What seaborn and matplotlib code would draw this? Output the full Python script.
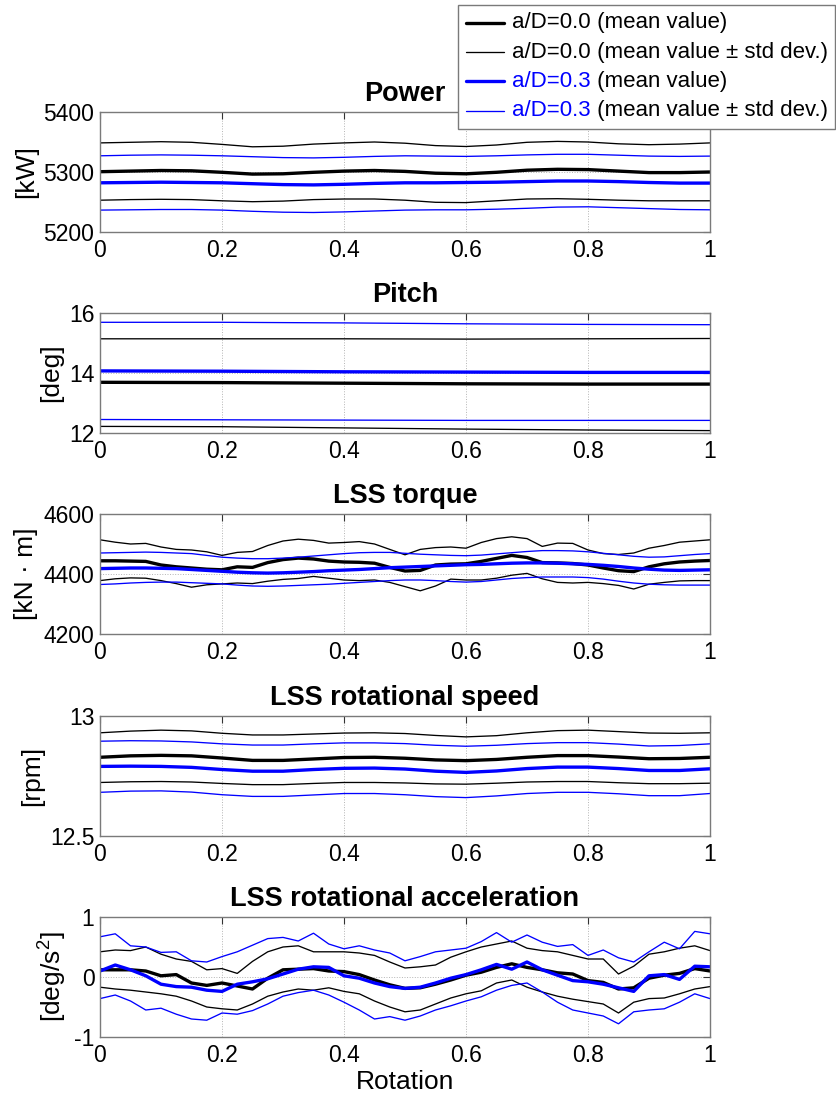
import numpy as np
import pandas as pd
import matplotlib
matplotlib.use("Agg")
import matplotlib.pyplot as plt
import seaborn as sns
from matplotlib.lines import Line2D
from matplotlib.offsetbox import AnchoredOffsetbox, DrawingArea, TextArea, HPacker, VPacker

# ---------------------------------------------------------------- data
rotation = np.round(np.linspace(0.0, 1.0, 21), 4)        # step 0.05
rotation_fine = np.round(np.linspace(0.0, 1.0, 41), 4)   # step 0.025
rotation_pitch = [0.0, 0.2, 0.4, 0.6, 0.8, 1.0]

# Power [kW]
power_mean_00 = [5300.5, 5301.5, 5302.5, 5302, 5299.5, 5296.5, 5297, 5299.5, 5301.5, 5302.5, 5301,
                 5298, 5297, 5299.5, 5303, 5304.5, 5304, 5301.5, 5299, 5299, 5300]
power_up_00 = [5348.5, 5349.5, 5350.5, 5349.5, 5346, 5342, 5343, 5346.5, 5348.5, 5350, 5348,
               5344, 5342.5, 5345, 5349.5, 5351, 5350, 5347, 5345.5, 5346.5, 5348.5]
power_lo_00 = [5253, 5254, 5254.5, 5254, 5252, 5250.5, 5251.5, 5254, 5255, 5255, 5253,
               5249.5, 5249, 5252, 5255, 5255.5, 5254.5, 5253, 5252, 5252, 5252]
power_mean_03 = [5282, 5282.5, 5283, 5282.5, 5282, 5280.5, 5279, 5278.5, 5279.5, 5281, 5282,
                 5282, 5282.5, 5283, 5284, 5285, 5285, 5284, 5282.5, 5281.5, 5281.5]
power_up_03 = [5327, 5328, 5328.5, 5328, 5327, 5325.5, 5324, 5323.5, 5324.5, 5326, 5327,
               5326.5, 5326, 5327, 5328.5, 5329.5, 5329.5, 5328, 5326.5, 5326, 5326.5]
power_lo_03 = [5236.5, 5237, 5237.5, 5237.5, 5236.5, 5234.5, 5233, 5232.5, 5233.5, 5235, 5236.5,
               5237, 5237, 5238, 5239.5, 5241.5, 5242, 5240.5, 5239, 5237.5, 5237]

# Pitch [deg]
pitch_mean_00 = [13.69, 13.68, 13.66, 13.64, 13.63, 13.63]
pitch_up_00 = [15.14, 15.14, 15.14, 15.13, 15.14, 15.15]
pitch_lo_00 = [12.22, 12.21, 12.17, 12.13, 12.10, 12.08]
pitch_mean_03 = [14.07, 14.06, 14.04, 14.03, 14.02, 14.02]
pitch_up_03 = [15.69, 15.69, 15.67, 15.64, 15.62, 15.61]
pitch_lo_03 = [12.45, 12.44, 12.43, 12.42, 12.42, 12.42]

# LSS torque [kN m]
torque_mean_00 = [4444, 4444, 4443, 4442, 4430, 4424, 4420, 4416, 4414, 4424, 4422, 4438, 4448, 4453,
                  4450, 4443, 4440, 4439, 4436, 4422, 4410, 4412, 4430, 4433, 4434, 4442, 4452, 4462,
                  4455, 4438, 4437, 4435, 4430, 4420, 4411, 4408, 4424, 4434, 4440, 4443, 4445]
torque_up_00 = [4514, 4506, 4500, 4502, 4490, 4482, 4480, 4474, 4462, 4472, 4475, 4495, 4510, 4516,
                4512, 4503, 4505, 4508, 4500, 4482, 4464, 4482, 4488, 4490, 4486, 4505, 4518, 4524,
                4518, 4492, 4503, 4502, 4480, 4468, 4465, 4470, 4486, 4495, 4506, 4510, 4514]
torque_lo_00 = [4378, 4384, 4387, 4386, 4378, 4368, 4356, 4364, 4367, 4370, 4368, 4376, 4382, 4385,
                4392, 4386, 4380, 4378, 4380, 4372, 4358, 4344, 4360, 4383, 4380, 4380, 4386, 4396,
                4402, 4384, 4372, 4370, 4372, 4368, 4362, 4350, 4366, 4372, 4377, 4378, 4378]
torque_mean_03 = [4418, 4419, 4420, 4420, 4419, 4418, 4415, 4412, 4409, 4406, 4404, 4403, 4404, 4406,
                  4408, 4411, 4413, 4415, 4418, 4421, 4423, 4425, 4427, 4429, 4431, 4432, 4434, 4436,
                  4437, 4437, 4436, 4434, 4432, 4429, 4425, 4420, 4416, 4413, 4412, 4413, 4414]
torque_up_03 = [4470, 4471, 4472, 4473, 4472, 4470, 4468, 4462, 4456, 4453, 4451, 4451, 4453, 4456,
                4460, 4464, 4468, 4471, 4472, 4472, 4469, 4466, 4464, 4462, 4461, 4463, 4467, 4471,
                4475, 4478, 4478, 4477, 4474, 4469, 4464, 4459, 4456, 4457, 4461, 4465, 4468]
torque_lo_03 = [4365, 4367, 4370, 4372, 4373, 4373, 4371, 4369, 4367, 4363, 4360, 4359, 4360, 4362,
                4364, 4366, 4369, 4372, 4375, 4378, 4380, 4380, 4378, 4375, 4373, 4375, 4380, 4385,
                4388, 4390, 4390, 4390, 4388, 4383, 4376, 4370, 4366, 4364, 4363, 4363, 4363]

# LSS rotational speed [rpm]
speed_mean_00 = [12.828, 12.834, 12.836, 12.834, 12.825, 12.815, 12.815, 12.821, 12.827, 12.828, 12.824,
                 12.817, 12.814, 12.819, 12.828, 12.835, 12.835, 12.829, 12.822, 12.823, 12.828]
speed_up_00 = [12.930, 12.937, 12.941, 12.938, 12.928, 12.921, 12.921, 12.925, 12.929, 12.930, 12.927,
               12.919, 12.913, 12.918, 12.930, 12.939, 12.941, 12.935, 12.929, 12.928, 12.930]
speed_lo_00 = [12.723, 12.726, 12.727, 12.725, 12.719, 12.714, 12.714, 12.719, 12.723, 12.723, 12.721,
               12.717, 12.716, 12.720, 12.725, 12.727, 12.727, 12.722, 12.718, 12.718, 12.720]
speed_mean_03 = [12.790, 12.791, 12.790, 12.786, 12.777, 12.770, 12.770, 12.777, 12.782, 12.783, 12.779,
                 12.770, 12.765, 12.771, 12.781, 12.787, 12.787, 12.781, 12.773, 12.773, 12.780]
speed_up_03 = [12.895, 12.897, 12.896, 12.892, 12.884, 12.879, 12.879, 12.884, 12.888, 12.888, 12.885,
               12.878, 12.874, 12.878, 12.885, 12.889, 12.889, 12.883, 12.875, 12.877, 12.884]
speed_lo_03 = [12.682, 12.687, 12.688, 12.683, 12.672, 12.665, 12.665, 12.671, 12.677, 12.677, 12.672,
               12.664, 12.660, 12.667, 12.677, 12.682, 12.682, 12.676, 12.668, 12.668, 12.677]

# LSS rotational acceleration [deg/s^2]
accel_mean_00 = [0.12, 0.12, 0.12, 0.10, 0.02, 0.04, -0.10, -0.14, -0.10, -0.15, -0.20, -0.02, 0.12, 0.13,
                 0.14, 0.10, 0.09, 0.04, -0.05, -0.13, -0.19, -0.18, -0.12, -0.05, 0.03, 0.08, 0.16, 0.22,
                 0.16, 0.12, 0.07, 0.05, -0.06, -0.09, -0.20, -0.18, -0.02, 0.03, 0.06, 0.14, 0.10]
accel_up_00 = [0.42, 0.45, 0.44, 0.50, 0.38, 0.30, 0.26, 0.12, 0.14, 0.06, 0.26, 0.42, 0.50, 0.52,
               0.42, 0.42, 0.42, 0.40, 0.36, 0.25, 0.15, 0.17, 0.20, 0.33, 0.42, 0.50, 0.55, 0.60,
               0.48, 0.44, 0.42, 0.36, 0.30, 0.30, 0.05, 0.18, 0.38, 0.42, 0.48, 0.52, 0.44]
accel_lo_00 = [-0.17, -0.20, -0.22, -0.25, -0.28, -0.32, -0.40, -0.50, -0.53, -0.55, -0.45, -0.32, -0.25, -0.20,
               -0.22, -0.18, -0.24, -0.28, -0.40, -0.50, -0.58, -0.55, -0.45, -0.35, -0.28, -0.23, -0.10, -0.05,
               -0.17, -0.25, -0.32, -0.37, -0.41, -0.45, -0.60, -0.42, -0.36, -0.35, -0.28, -0.20, -0.16]
accel_mean_03 = [0.10, 0.20, 0.12, 0.02, -0.12, -0.16, -0.17, -0.22, -0.24, -0.12, -0.08, -0.03, 0.05, 0.13,
                 0.17, 0.16, 0.02, -0.02, -0.10, -0.16, -0.19, -0.17, -0.10, -0.02, 0.04, 0.12, 0.21, 0.13,
                 0.25, 0.12, 0.03, -0.06, -0.08, -0.12, -0.18, -0.24, 0.02, 0.04, -0.04, 0.18, 0.17]
accel_up_03 = [0.67, 0.72, 0.52, 0.50, 0.41, 0.42, 0.27, 0.25, 0.34, 0.42, 0.53, 0.64, 0.66, 0.60,
               0.73, 0.55, 0.47, 0.52, 0.45, 0.40, 0.27, 0.34, 0.42, 0.45, 0.48, 0.59, 0.74, 0.58,
               0.70, 0.58, 0.51, 0.54, 0.36, 0.45, 0.32, 0.25, 0.42, 0.58, 0.47, 0.76, 0.72]
accel_lo_03 = [-0.36, -0.30, -0.40, -0.55, -0.52, -0.62, -0.70, -0.72, -0.60, -0.62, -0.56, -0.45, -0.32, -0.26,
               -0.22, -0.30, -0.42, -0.55, -0.70, -0.66, -0.72, -0.65, -0.55, -0.48, -0.40, -0.33, -0.22, -0.14,
               -0.10, -0.25, -0.42, -0.55, -0.60, -0.65, -0.78, -0.58, -0.55, -0.53, -0.42, -0.28, -0.36]

x_ticks = [0, 0.2, 0.4, 0.6, 0.8, 1]
x_tick_labels = ["0", "0.2", "0.4", "0.6", "0.8", "1"]

legend_labels = [("a/D=0.0", " (mean value)"),
                 ("a/D=0.0", " (mean value \u00b1 std dev.)"),
                 ("a/D=0.3", " (mean value)"),
                 ("a/D=0.3", " (mean value \u00b1 std dev.)")]

# ---------------------------------------------------------------- style
sns.set_theme(style="white")
plt.rcParams["font.family"] = ["Liberation Sans", "DejaVu Sans"]
plt.rcParams["mathtext.fontset"] = "custom"
plt.rcParams["mathtext.rm"] = "Liberation Sans"
plt.rcParams["mathtext.it"] = "Liberation Sans"
plt.rcParams["mathtext.default"] = "regular"
for key in ["text.color", "axes.labelcolor", "xtick.color", "ytick.color", "axes.titlecolor"]:
    plt.rcParams[key] = "black"

BLACK = "#000000"
BLUE = "#0000ff"
LW_MEAN = 2.4
LW_STD = 0.95
TICK_FS = 16.5
LABEL_FS = 19
TITLE_FS = 19.5

fig = plt.figure(figsize=(8.37, 10.97), dpi=100)
fig.patch.set_facecolor("white")

W, H = 837.0, 1097.0
ax_left, ax_width, ax_height = 100 / W, 610 / W, 120 / H
ax_bottoms_px = [232, 433, 634, 836, 1037]

panels = [
    dict(title="Power", ylabel="[kW]", x=rotation,
         yticks=[5200, 5300, 5400], ylabels=["5200", "5300", "5400"],
         series=[power_mean_00, power_up_00, power_lo_00, power_mean_03, power_up_03, power_lo_03]),
    dict(title="Pitch", ylabel="[deg]", x=rotation_pitch,
         yticks=[12, 14, 16], ylabels=["12", "14", "16"],
         series=[pitch_mean_00, pitch_up_00, pitch_lo_00, pitch_mean_03, pitch_up_03, pitch_lo_03]),
    dict(title="LSS torque", ylabel="[kN \u00b7 m]", x=rotation_fine,
         yticks=[4200, 4400, 4600], ylabels=["4200", "4400", "4600"],
         series=[torque_mean_00, torque_up_00, torque_lo_00, torque_mean_03, torque_up_03, torque_lo_03]),
    dict(title="LSS rotational speed", ylabel="[rpm]", x=rotation,
         yticks=[12.5, 13], ylabels=["12.5", "13"],
         series=[speed_mean_00, speed_up_00, speed_lo_00, speed_mean_03, speed_up_03, speed_lo_03]),
    dict(title="LSS rotational acceleration", ylabel="[deg/s$^{2}$]", x=rotation_fine,
         yticks=[-1, 0, 1], ylabels=["-1", "0", "1"],
         series=[accel_mean_00, accel_up_00, accel_lo_00, accel_mean_03, accel_up_03, accel_lo_03]),
]

line_styles = [(BLACK, LW_MEAN), (BLACK, LW_STD), (BLACK, LW_STD),
               (BLUE, LW_MEAN), (BLUE, LW_STD), (BLUE, LW_STD)]

for i, (panel, bottom_px) in enumerate(zip(panels, ax_bottoms_px)):
    ax = fig.add_axes([ax_left, (H - bottom_px) / H, ax_width, ax_height])
    for values, (color, lw) in zip(panel["series"], line_styles):
        df = pd.DataFrame({"rotation": panel["x"], "value": values})
        sns.lineplot(data=df, x="rotation", y="value", ax=ax, color=color,
                     linewidth=lw, sort=False, errorbar=None, legend=False)
    ax.set_xlim(0, 1)
    ax.set_ylim(panel["yticks"][0], panel["yticks"][-1])
    ax.set_xticks(x_ticks)
    ax.set_xticklabels(x_tick_labels)
    ax.set_yticks(panel["yticks"])
    ax.set_yticklabels(panel["ylabels"])
    ax.grid(True, linestyle=":", linewidth=0.7, color="#b4b4b4")
    ax.set_axisbelow(True)
    ax.tick_params(axis="both", which="both", direction="in", length=5, width=0.8,
                   color="#333333", labelcolor="black", top=True, right=True,
                   labelsize=TICK_FS)
    ax.tick_params(axis="x", pad=5)
    ax.tick_params(axis="y", pad=4)
    for spine in ax.spines.values():
        spine.set_color("#7a7a7a")
        spine.set_linewidth(1.0)
    ax.set_title(panel["title"], fontsize=TITLE_FS, fontweight="bold", pad=8, color="black")
    ax.set_ylabel(panel["ylabel"], fontsize=LABEL_FS, labelpad=4, color="black")
    if i == len(panels) - 1:
        ax.set_xlabel("Rotation", fontsize=LABEL_FS, labelpad=2, color="black")
    else:
        ax.set_xlabel("")

# ---------------------------------------------------------------- legend
rows = []
for (tag, rest), (color, lw) in zip(legend_labels, [line_styles[0], line_styles[1],
                                                    line_styles[3], line_styles[4]]):
    swatch = DrawingArea(27, 12, 0, 0)
    swatch.add_artist(Line2D([0, 27], [6, 6], color=color, linewidth=lw))
    t_tag = TextArea(tag, textprops=dict(color=color if color == BLUE else BLACK,
                                         fontsize=16))
    t_rest = TextArea(rest, textprops=dict(color=BLACK, fontsize=16))
    text = HPacker(children=[t_tag, t_rest], align="baseline", pad=0, sep=0)
    rows.append(HPacker(children=[swatch, text], align="center", pad=0, sep=6))

legend_box = VPacker(children=rows, align="left", pad=0, sep=6)
anchored = AnchoredOffsetbox(loc="upper right", child=legend_box, pad=0.35, borderpad=0,
                             frameon=True, prop=dict(size=16),
                             bbox_to_anchor=(835.5 / W, 1 - 4.5 / H),
                             bbox_transform=fig.transFigure)
anchored.patch.set_boxstyle("square", pad=0)
anchored.patch.set_edgecolor("#7a7a7a")
anchored.patch.set_linewidth(1.0)
anchored.patch.set_facecolor("white")
anchored.set_zorder(10)
fig.add_artist(anchored)

fig.savefig("out.png", dpi=100, facecolor="white")
